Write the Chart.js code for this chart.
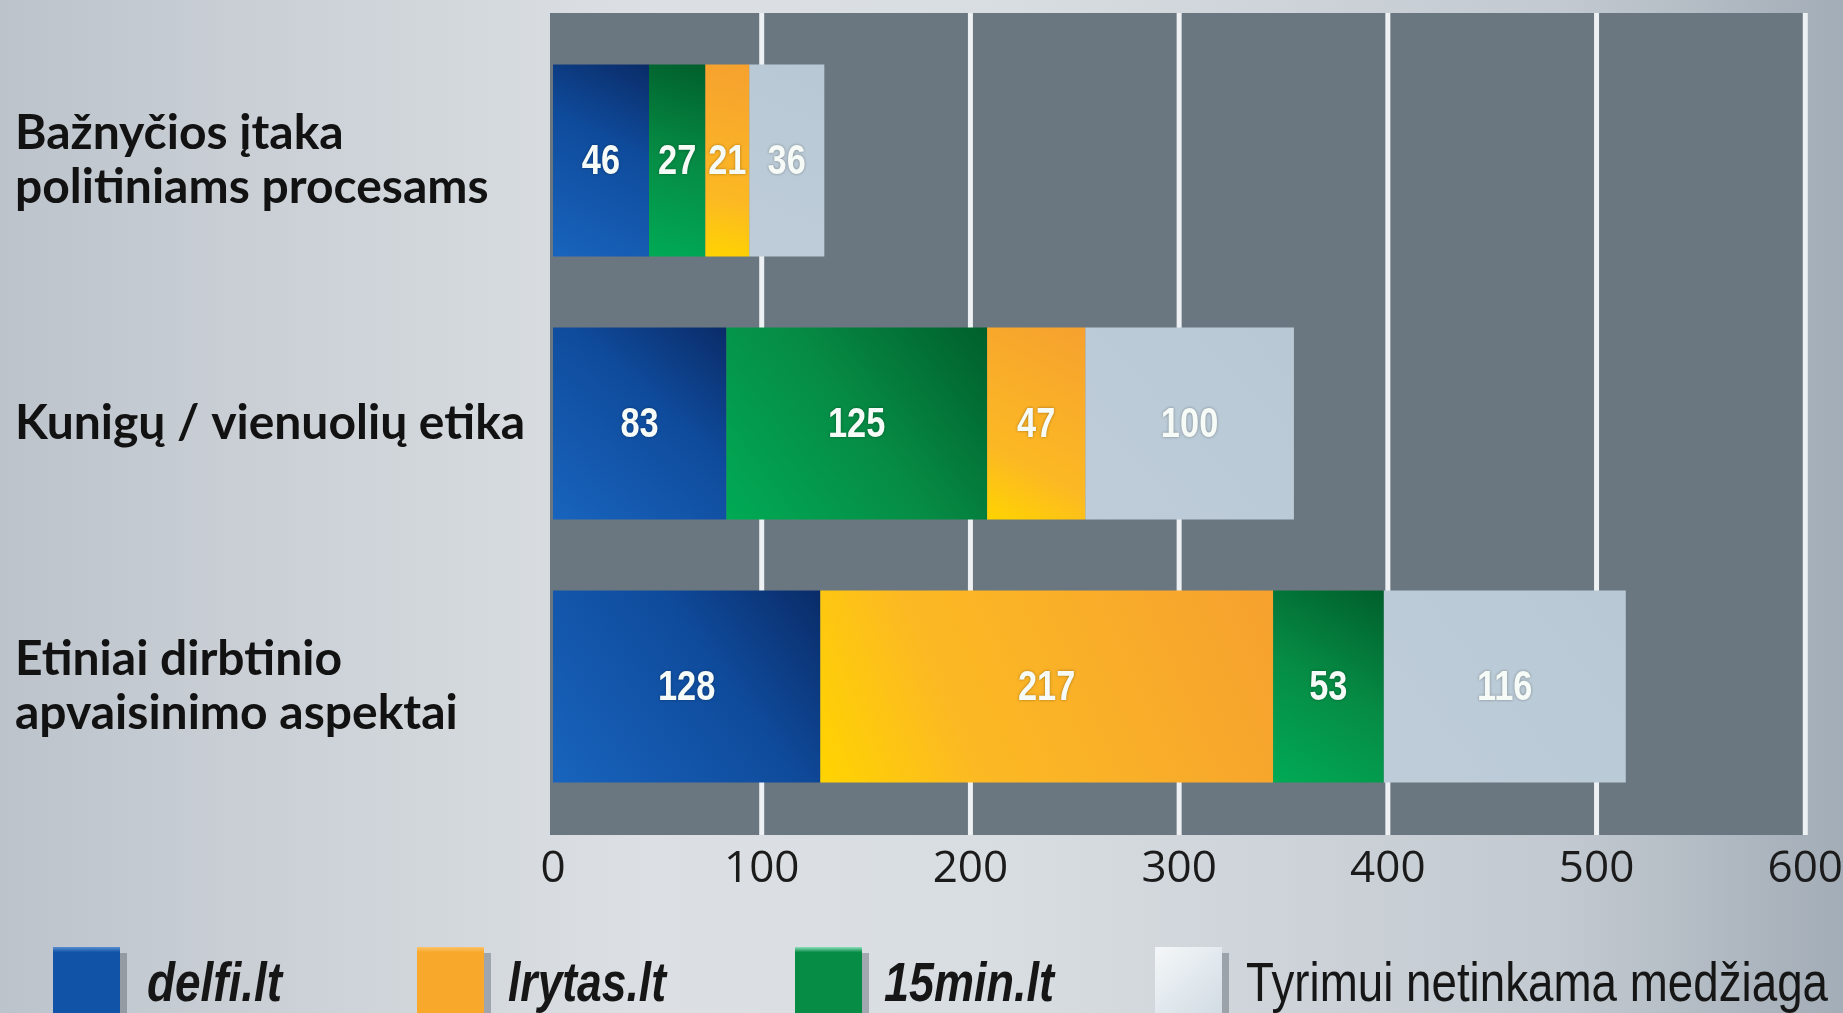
<!DOCTYPE html>
<html>
<head>
<meta charset="utf-8">
<script src="https://cdn.jsdelivr.net/npm/chart.js@4.4.1/dist/chart.umd.min.js"></script>
<style>
html,body{margin:0;padding:0;background:#ccd2d8;}
canvas{display:block;}
</style>
</head>
<body>
<canvas id="c" width="1843" height="1013"></canvas>
<script>
// ---------- DATA ----------
const categories = [["Bažnyčios įtaka", "politiniams procesams"], "Kunigų / vienuolių etika", ["Etiniai dirbtinio", "apvaisinimo aspektai"]];
const seriesNames = ["delfi.lt", "lrytas.lt", "15min.lt", "Tyrimui netinkama medžiaga"];
const delfiValues = [46, 83, 128];
const lrytasValues = [21, 47, 217];
const min15Values = [27, 125, 53];
const netinkamaValues = [36, 100, 116];
// order in which the series are stacked (left to right) in each category
const stackOrder = [[0, 2, 1, 3], [0, 2, 1, 3], [0, 1, 2, 3]];
const xTickValues = [0, 100, 200, 300, 400, 500, 600];

// ---------- derived ----------
const seriesValues = [delfiValues, lrytasValues, min15Values, netinkamaValues];
const ranges = seriesValues.map(() => []);
categories.forEach((c, i) => {
  let acc = 0;
  stackOrder[i].forEach(s => {
    const v = seriesValues[s][i];
    ranges[s][i] = [acc, acc + v];
    acc += v;
  });
});

// ---------- styles ----------
const flatColors = ['#1153a6', '#f8a92b', '#078c46', '#b9cad6'];
const gradStops = [
  [[0, '#1864bd'], [0.6, '#0f4b9c'], [1, '#0a2c68']],
  [[0, '#ffd400'], [0.3, '#fcb923'], [1, '#f6a12f']],
  [[0, '#00aa55'], [0.5, '#068c45'], [1, '#005f2b']],
  [[0, '#bdccd8'], [1, '#b8c9d5']]
];
const SANS = "'Liberation Sans', Arial, sans-serif";

function barFill(s) {
  return (ctx) => {
    const chart = ctx.chart;
    if (!chart.chartArea || ctx.type !== 'data') return flatColors[s];
    const xs = chart.scales.x, ys = chart.scales.y;
    const r = ranges[s][ctx.dataIndex];
    const x0 = xs.getPixelForValue(r[0]), x1 = xs.getPixelForValue(r[1]);
    const yc = ys.getPixelForValue(ctx.dataIndex);
    const h = 96;
    const g = chart.ctx.createLinearGradient(x0, yc + h, x1, yc - h);
    gradStops[s].forEach(st => g.addColorStop(st[0], st[1]));
    return g;
  };
}

const bgPlugin = {
  id: 'bgPanel',
  beforeDraw(chart) {
    const ctx = chart.ctx, W = chart.width, H = chart.height;
    ctx.save();
    const g = ctx.createLinearGradient(0, 0, W, 0);
    g.addColorStop(0, '#bcc3cb');
    g.addColorStop(0.12, '#c8ced4');
    g.addColorStop(0.35, '#dce0e4');
    g.addColorStop(0.55, '#d8dde1');
    g.addColorStop(0.85, '#c2c9d0');
    g.addColorStop(1, '#a3adb7');
    ctx.fillStyle = g;
    ctx.fillRect(0, 0, W, H);
    const xs = chart.scales.x, ca = chart.chartArea;
    const left = xs.getPixelForValue(0) - 3;
    const right = xs.getPixelForValue(600);
    const top = ca.top - 16, bottom = ca.bottom + 17;
    ctx.fillStyle = '#6b7780';
    ctx.fillRect(left, top, right - left, bottom - top);
    ctx.fillStyle = '#eef1f3';
    xs.ticks.forEach(t => {
      if (t.value === 0) return;
      const px = xs.getPixelForValue(t.value);
      ctx.fillRect(px - 2.5, top, 5, bottom - top);
    });
    ctx.restore();
  }
};

const valuePlugin = {
  id: 'values',
  afterDatasetsDraw(chart) {
    const ctx = chart.ctx;
    ctx.save();
    ctx.font = "bold 43px " + SANS;
    ctx.textAlign = 'center';
    ctx.textBaseline = 'middle';
    ctx.fillStyle = '#f6fbf7';
    ctx.shadowColor = 'rgba(0,0,0,0.35)';
    ctx.shadowBlur = 3;
    chart.data.datasets.forEach((ds, di) => {
      const meta = chart.getDatasetMeta(di);
      meta.data.forEach((el, i) => {
        const txt = String(seriesValues[di][i]);
        const x = (el.x + el.base) / 2;
        ctx.fillText(txt, x, el.y + 2, ctx.measureText(txt).width * 0.8);
      });
    });
    ctx.restore();
  }
};

const legendPlugin = {
  id: 'customLegend',
  afterDraw(chart) {
    const ctx = chart.ctx;
    const boxX = [53, 417, 795, 1155];
    const textX = [147, 508, 884, 1246];
    const textW = [135, 158, 170, 582];
    const top = 947, w = 67, h = 75;
    ctx.save();
    for (let s = 0; s < 4; s++) {
      ctx.fillStyle = 'rgba(60,70,80,0.35)';
      ctx.fillRect(boxX[s] + w, top + 6, 7, h);
      let g = ctx.createLinearGradient(0, top, 0, top + h);
      if (s === 3) {
        g = ctx.createLinearGradient(boxX[s], top, boxX[s] + w, top + h);
        g.addColorStop(0, '#f4f7f9');
        g.addColorStop(1, '#cfdae2');
      } else {
        const light = ['#5a8fd0', '#fbc16a', '#8fe0bb'][s];
        g.addColorStop(0, light);
        g.addColorStop(0.07, flatColors[s]);
        g.addColorStop(1, flatColors[s]);
      }
      ctx.fillStyle = g;
      ctx.fillRect(boxX[s], top, w, h);
      ctx.fillStyle = '#161616';
      ctx.textBaseline = 'alphabetic';
      ctx.textAlign = 'left';
      ctx.font = (s === 3 ? '' : 'italic bold ') + '55px ' + SANS;
      ctx.fillText(seriesNames[s], textX[s], 1001, textW[s]);
    }
    ctx.restore();
  }
};

Chart.defaults.animation = false;

new Chart(document.getElementById('c'), {
  type: 'bar',
  data: {
    labels: categories,
    datasets: seriesNames.map((name, s) => ({
      label: name,
      data: ranges[s],
      backgroundColor: barFill(s),
      borderWidth: 0,
      grouped: false,
      categoryPercentage: 1,
      barPercentage: 0.73
    }))
  },
  options: {
    indexAxis: 'y',
    responsive: false,
    devicePixelRatio: 1,
    animation: false,
    layout: { padding: { left: 15, right: 0, top: 29, bottom: 93 } },
    plugins: { legend: { display: false }, tooltip: { enabled: false } },
    scales: {
      x: {
        min: 0, max: 600,
        afterBuildTicks: (scale) => { scale.ticks = xTickValues.map(v => ({ value: v })); },
        grid: { display: false, drawTicks: false },
        border: { display: false },
        ticks: {
          padding: 0,
          color: '#1b1b1b',
          font: { family: "'Open Sans', sans-serif", size: 44, weight: '400', lineHeight: 2.318 }
        }
      },
      y: {
        grid: { display: false, drawTicks: false },
        border: { display: false },
        afterFit: (scale) => { scale.width = 538; },
        ticks: {
          crossAlign: 'far',
          padding: -26,
          color: '#121212',
          font: { family: "Lato, sans-serif", size: 48, weight: 'bold', lineHeight: 1.12 }
        }
      }
    }
  },
  plugins: [bgPlugin, valuePlugin, legendPlugin]
});
</script>
</body>
</html>
